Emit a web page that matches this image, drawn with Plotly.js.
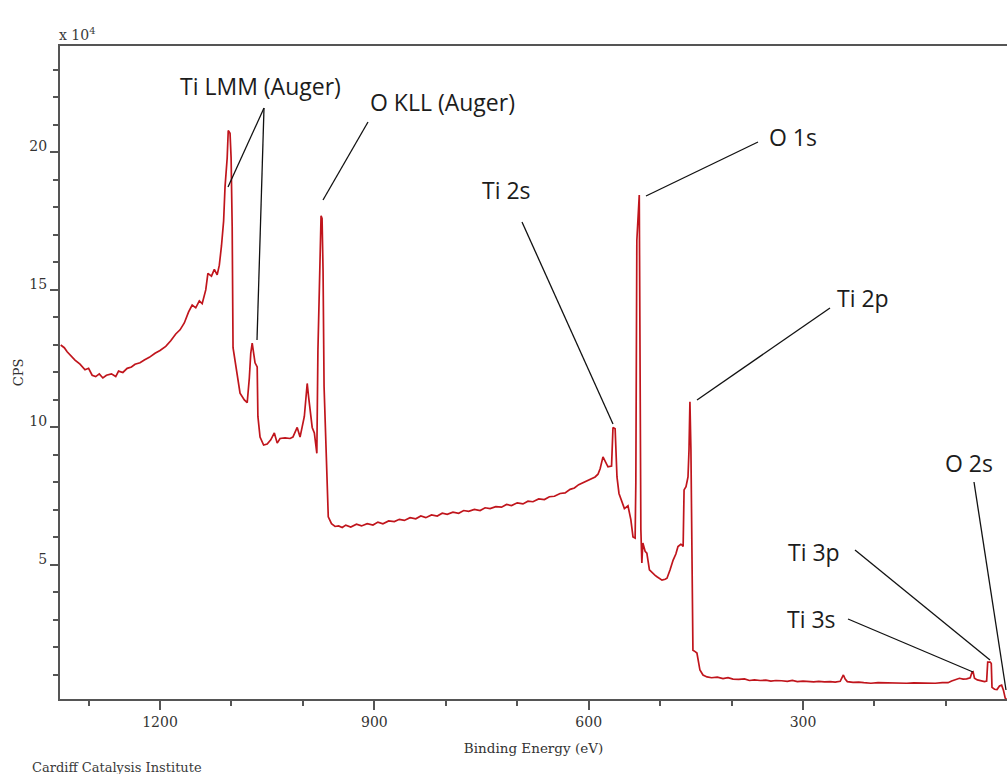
<!DOCTYPE html>
<html>
<head>
<meta charset="utf-8">
<script src="https://cdn.plot.ly/plotly-3.0.1.min.js"></script>
<style>html,body{margin:0;padding:0;background:#fff;}#chart{width:1007px;height:774px;}</style>
</head>
<body>
<div id="chart"></div>
<script>
// Binding energy (eV)
var bindingEnergy = [
1339,1334,1330,1325,1319,1312,1305,1300,1295,1290,1285,1280,1275,1268,1262,1258,1252,1246,1240,1235,
1228,1222,1215,1207,1200,1192,1185,1178,1172,1166,1160,1155,1150,1145,1141,1136,1133,1128,1124,1120,
1117,1114,1111,1109,1106,1104.5,1102,1100.5,1099,1097.8,1092,1088,1082,1078,1075,1073,1071,1069,1067,1064,
1063,1060,1055,1050,1045,1040,1036,1032,1025,1018,1014,1008,1004,998,994,992,987,984,980.5,979,
976,974.6,973.2,971.8,970.4,967,966,964.5,960,955,
950,945,940,933,925,918,910,902,895,888,880,872,865,858,850,842,835,828,820,812,805,798,790,782,775,768,
760,752,745,738,730,722,715,708,700,692,685,678,670,662,655,648,640,633,626,620,614,608,600,594,
591,587,584,580,576,573,568,566,563,560.4,557.6,553.4,550,545,541,538,535,534,532.6,529.2,527,
525.6,524.2,521,518.6,515,511,507,504.4,500,497.4,493,490.4,486.2,481.8,478,475,471,469.4,467.8,
466.5,463.8,461,459.6,458.3,456.9,455.5,454.1,451,448.5,444.3,440,434.4,428,420,412,405,398,390,382,
375,368,360,352,345,338,330,322,315,308,300,292,285,278,270,262,255,248,245,243.5,241,238,230,222,
215,205,195,185,175,165,155,145,135,125,115,105,97,92,86,81,76,71,66,63.5,62,60,56,51,46,43,
41.5,38,36.5,35.5,32,28.5,25,22,19.5,17,15
];
// Counts per second, in units of 10^4
var cps = [
13.0,12.9,12.75,12.6,12.45,12.3,12.1,12.15,11.9,11.85,11.95,11.8,11.9,11.95,11.85,12.05,12.0,12.15,12.2,12.3,
12.35,12.45,12.55,12.7,12.8,12.95,13.15,13.4,13.55,13.8,14.2,14.45,14.35,14.6,14.5,15.0,15.6,15.5,15.75,15.55,
15.9,16.6,17.5,18.75,19.8,20.8,20.7,19.8,17.3,12.9,12.0,11.25,11.0,10.9,11.8,12.7,13.07,12.6,12.35,12.2,
10.4,9.65,9.36,9.4,9.55,9.8,9.43,9.6,9.62,9.6,9.65,10.0,9.65,10.4,11.6,11.1,10.0,9.8,9.06,12.8,
15.8,17.7,17.6,15.7,11.5,9.06,7.6,6.75,6.5,6.4,
6.42,6.36,6.45,6.38,6.48,6.42,6.5,6.45,6.56,6.5,6.6,6.58,6.66,6.62,6.72,6.68,6.78,6.72,6.82,6.78,6.88,6.84,6.92,6.88,6.98,6.95,
7.02,6.98,7.08,7.05,7.12,7.1,7.2,7.16,7.26,7.22,7.32,7.3,7.4,7.38,7.48,7.5,7.6,7.62,7.75,7.8,7.92,8.0,8.1,8.18,
8.2,8.3,8.5,8.93,8.75,8.57,8.6,10.0,9.95,8.2,7.6,7.25,7.05,7.15,6.65,6.02,5.98,8.0,16.8,18.45,6.3,
5.07,5.8,5.5,5.43,4.82,4.7,4.62,4.57,4.5,4.45,4.48,4.52,4.82,5.18,5.4,5.67,5.75,5.73,5.67,
7.73,7.85,8.2,9.18,10.93,9.18,4.82,1.9,1.85,1.8,1.18,1.0,0.93,0.9,0.92,0.87,0.9,0.85,0.84,0.86,
0.8,0.82,0.8,0.81,0.78,0.8,0.79,0.77,0.8,0.76,0.78,0.77,0.75,0.77,0.75,0.76,0.74,0.77,0.9,1.0,0.85,0.76,0.73,0.74,
0.72,0.7,0.72,0.71,0.7,0.71,0.7,0.71,0.7,0.71,0.7,0.72,0.72,0.78,0.82,0.88,0.85,0.86,0.9,1.1,1.12,0.88,0.82,0.78,0.76,0.78,
1.47,1.47,1.42,0.55,0.48,0.47,0.6,0.63,0.45,0.16,0.1
];

var peakLabels = ["Ti LMM (Auger)","O KLL (Auger)","Ti 2s","O 1s","Ti 2p","O 2s","Ti 3p","Ti 3s"];

var W = 947, H = 653, L = 60, T = 46;
function px(x){return (x - L)/W;}
function py(y){return (T + H - y)/H;}

var labelPos = [[260,86],[442,102],[506,190],[793,137],[863,298],[969,463],[814,552],[811,619]];
var leaders = [
  [[264,108],[228,187]],
  [[264,108],[257,340]],
  [[368,122],[323,200]],
  [[522,222],[613,424]],
  [[758,142],[646,196]],
  [[830,308],[697,400]],
  [[855,550],[990,660]],
  [[848,619],[973,672]],
  [[974,482],[1006,690]]
];

var annotations = peakLabels.map(function(t,i){
  return {text:t, xref:'paper', yref:'paper', x:px(labelPos[i][0]), y:py(labelPos[i][1]),
    xanchor:'center', yanchor:'middle', showarrow:false,
    font:{family:'"Open Sans", sans-serif', size:23, color:'#1c1c1c'}};
});
annotations.push({text:'x 10<sup>4</sup>', xref:'paper', yref:'paper', x:px(57), y:py(45),
  xanchor:'left', yanchor:'bottom', showarrow:false,
  font:{family:'"DejaVu Serif", serif', size:14, color:'#3a3a3a'}});
annotations.push({text:'Cardiff Catalysis Institute', xref:'paper', yref:'paper', x:px(30), y:py(767),
  xanchor:'left', yanchor:'middle', showarrow:false,
  font:{family:'"DejaVu Serif", serif', size:13, color:'#3a3a3a'}});

var shapes = leaders.map(function(s){
  return {type:'line', xref:'paper', yref:'paper', x0:px(s[0][0]), y0:py(s[0][1]), x1:px(s[1][0]), y1:py(s[1][1]),
    line:{color:'#111', width:1.3}};
});

var trace = {x:bindingEnergy, y:cps, type:'scatter', mode:'lines',
  line:{color:'#c0151c', width:1.7}, hoverinfo:'x+y'};

var axisFont = {family:'"DejaVu Serif", serif', size:14, color:'#333'};
var layout = {
  width:1007, height:774,
  margin:{l:60, r:0, t:46, b:75},
  paper_bgcolor:'#fff', plot_bgcolor:'#fff',
  showlegend:false,
  xaxis:{range:[1340,14.5], tick0:0, dtick:300, ticks:'outside', ticklen:9, tickwidth:2, tickcolor:'#555',
    showline:true, linecolor:'#555', linewidth:2, mirror:true, showgrid:false, zeroline:false,
    tickfont:axisFont,
    minor:{tick0:0, dtick:100, ticks:'outside', ticklen:5, tickwidth:2, tickcolor:'#555', showgrid:false},
    title:{text:'Binding Energy (eV)', font:{family:'"DejaVu Serif", serif', size:13.5, color:'#333'}, standoff:15}},
  yaxis:{range:[0.127,23.87], tick0:0, dtick:5, ticks:'outside', ticklen:8, tickwidth:2, tickcolor:'#555',
    showline:true, linecolor:'#555', linewidth:2, mirror:false, showgrid:false, zeroline:false,
    tickfont:axisFont, ticklabelshift:-6,
    minor:{tick0:0, dtick:1, ticks:'outside', ticklen:5, tickwidth:2, tickcolor:'#555', showgrid:false},
    title:{text:'CPS', font:{family:'"DejaVu Serif", serif', size:13, color:'#333'}, standoff:3}},
  annotations:annotations,
  shapes:shapes
};
Plotly.newPlot('chart',[trace],layout,{displayModeBar:false, staticPlot:true});
</script>
</body>
</html>
